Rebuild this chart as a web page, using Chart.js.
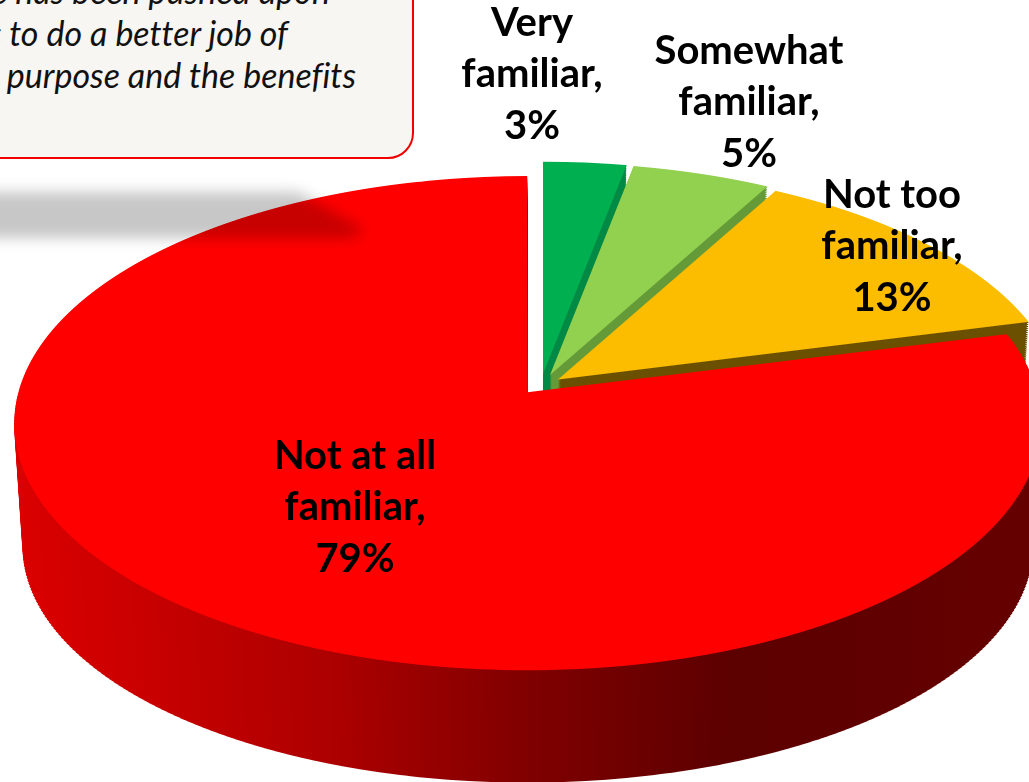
<!DOCTYPE html>
<html>
<head>
<meta charset="utf-8">
<title>Familiarity</title>
<script src="https://cdn.jsdelivr.net/npm/chart.js@4/dist/chart.umd.js"></script>
<style>
  html, body { margin: 0; height: 100%; background: #fff; overflow: hidden; }
  #stage { position: relative; width: 1029px; height: 782px; overflow: hidden; }
  #pie { position: absolute; left: 0; top: 0; }
  #callout {
    position: absolute; left: -40px; top: -40px; width: 450px; height: 195px;
    background: #f7f6f3; border: 2px solid #f00000; border-radius: 26px;
  }
  .note {
    position: absolute; white-space: nowrap; text-align: right;
    font: italic 34px/40px Lato, sans-serif; font-variant-ligatures: none; color: #111;
  }
  #band {
    position: absolute; left: -20px; top: 186px; width: 400px; height: 60px;
    filter: blur(7px);
  }
  #band div {
    width: 100%; height: 100%; background: rgba(0, 0, 0, 0.22);
    clip-path: polygon(0 6px, 318px 6px, 385px 44px, 372px 52px, 0 52px);
  }
</style>
</head>
<body>
<div id="stage">
  <canvas id="pie" width="1029" height="782"></canvas>
  <div id="band"><div></div></div>
  <div id="callout"></div>
  <div class="note" style="right:699px; top:-29px">e has been pushed upon</div>
  <div class="note" style="right:741px; top:13px">s to do a better job of</div>
  <div class="note" style="right:673px; top:55px">purpose and the benefits</div>
</div>

<script>
const categories = [["Very", "familiar,"], ["Somewhat", "familiar,"], ["Not too", "familiar,"], ["Not at all", "familiar,"]];
const values = [3, 5, 13, 79];
const faceColors = ["#00b050", "#92d050", "#fcbc00", "#ff0000"];
const sideColors = ["#008a45", "#659a38", "#6b5000", null];

// tilt of the pie plane: foreshortening and perspective strength
const TILT = 0.4767;
const PERSPECTIVE = 0.000246;
const DEPTH = 125;

// where each slice's centre lands on the page
const sliceOrigins = [[543, 374], [550, 375], [554, 381], [533, 389]];
const labelCentres = [[532, 23], [749, 51], [892, 195], [355, 456]];

// draw one arc squeezed into perspective, one strip of rows at a time
function paintArc(ctx, arc, color, origin, depth, rowStep) {
  const [ox, oy] = origin;
  const shrinkX = 1 - 0.00013 * depth;
  const shrinkY = 1 - 0.00036 * depth;
  const saved = arc.options;
  arc.options = { ...saved, backgroundColor: color };

  const top = Math.max(0, Math.floor(oy + depth - 240));
  const bottom = Math.min(782, Math.ceil(oy + depth + 300));
  for (let row = top; row < bottom; row += rowStep) {
    const mid = row + rowStep / 2;
    const w = (mid - oy - depth) / shrinkY;
    const s = 1 + w * PERSPECTIVE / TILT;
    const v = w / (TILT + w * PERSPECTIVE);
    const sy = TILT * s * s * shrinkY;

    ctx.save();
    ctx.setTransform(1, 0, 0, 1, 0, 0);
    ctx.beginPath();
    ctx.rect(0, row, 1029, rowStep);
    ctx.clip();
    ctx.setTransform(s * shrinkX, 0, 0, sy, ox - s * shrinkX * arc.x, mid - sy * (v + arc.y));
    arc.draw(ctx);
    ctx.restore();
  }
  arc.options = saved;
}

const tiltedPie = {
  id: "tiltedPie",
  beforeDatasetDraw(chart, args) {
    const ctx = chart.ctx;
    const arcs = chart.getDatasetMeta(args.index).data;

    // side wall of the big slice darkens from left to right
    const r = arcs[3].outerRadius;
    const redSide = ctx.createLinearGradient(arcs[3].x - r, 0, arcs[3].x + r, 0);
    redSide.addColorStop(0, "#dc0000");
    redSide.addColorStop(0.13, "#cc0000");
    redSide.addColorStop(0.33, "#ac0000");
    redSide.addColorStop(0.5, "#800000");
    redSide.addColorStop(0.68, "#5c0000");
    redSide.addColorStop(1, "#660000");

    arcs.forEach((arc, i) => {
      for (let depth = DEPTH; depth > 0; depth -= 2) {
        paintArc(ctx, arc, sideColors[i] || redSide, sliceOrigins[i], depth, 3);
      }
      paintArc(ctx, arc, faceColors[i], sliceOrigins[i], 0, 1);
    });
    return false;
  },
  afterDraw(chart) {
    const ctx = chart.ctx;
    ctx.save();
    ctx.fillStyle = "#000";
    ctx.font = "bold 40px Lato, sans-serif";
    ctx.textAlign = "center";
    ctx.textBaseline = "middle";
    categories.forEach((lines, i) => {
      const [x, y] = labelCentres[i];
      [...lines, values[i] + "%"].forEach((line, n) => ctx.fillText(line, x, y + n * 51.5));
    });
    ctx.restore();
  }
};

new Chart(document.getElementById("pie"), {
  type: "pie",
  plugins: [tiltedPie],
  data: {
    labels: categories,
    datasets: [{
      data: values,
      backgroundColor: faceColors,
      borderWidth: 0,
      radius: 500,
      offset: [0, 0, 20, 34] // slices pulled apart so their sides show
    }]
  },
  options: {
    responsive: false,
    animation: false,
    events: [],
    plugins: { legend: { display: false }, tooltip: { enabled: false } }
  }
});
</script>
</body>
</html>
